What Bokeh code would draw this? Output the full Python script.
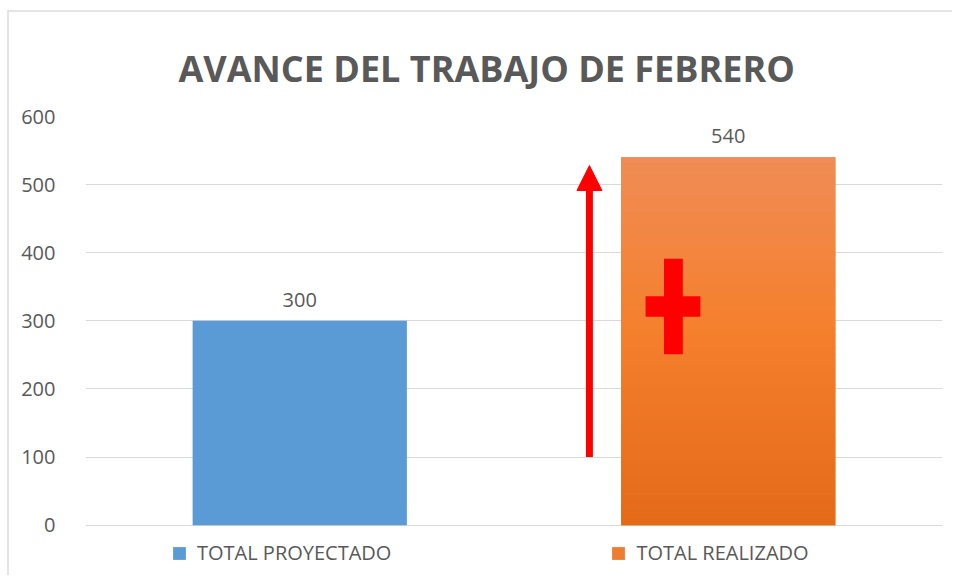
from bokeh.plotting import figure
from bokeh.models import (Range1d, ColumnDataSource, LabelSet, Legend, LegendItem,
                          Arrow, NormalHead, FixedTicker, Title)
from bokeh.core.properties import value
from bokeh.embed import file_html
from bokeh.resources import INLINE

# ---- data ----
categories = ["TOTAL PROYECTADO", "TOTAL REALIZADO"]
values = [300, 540]
colors = ["#5B9BD5", "#ED7D31"]
y_ticks = [0, 100, 200, 300, 400, 500, 600]
title_text = "AVANCE DEL TRABAJO DE FEBRERO"

# annotation (arrow / cross) in data units
arrow_start, arrow_end = 100, 528
cross_v = (251, 391)
cross_h = (306, 336)

FONT = "Open Sans"
GREY = "#595959"

p = figure(width=945, height=565, output_backend="svg", toolbar_location=None,
           x_range=Range1d(0, 2), y_range=Range1d(-65, 600),
           min_border_left=76, min_border_right=12, min_border_top=104,
           min_border_bottom=8)
p.outline_line_color = None
p.styles = {"margin-left": "7px", "margin-top": "10px",
            "border-left": "2px solid #e4e4e4", "border-top": "2px solid #e4e4e4"}

xs = [i + 0.5 for i in range(len(categories))]
src = ColumnDataSource(dict(x=xs, top=values, color=colors, cat=categories,
                            label=[str(v) for v in values]))

r = p.vbar(x="x", top="top", width=0.5, bottom=0, fill_color="color",
           line_color=None, source=src)

# gradient overlay for second bar
stops = [(0.0, (228, 106, 24)), (0.55, (245, 128, 46)), (1.0, (240, 140, 86))]
def interp(t):
    for (t0, c0), (t1, c1) in zip(stops[:-1], stops[1:]):
        if t <= t1:
            f = (t - t0) / (t1 - t0)
            return "#%02x%02x%02x" % tuple(int(round(a + (b - a) * f)) for a, b in zip(c0, c1))
    return "#%02x%02x%02x" % stops[-1][1]
n = 60
v = values[1]
bots = [v * i / n for i in range(n)]
tops = [v * (i + 1) / n + 0.5 for i in range(n)]
tops[-1] = v
gcols = [interp((i + 0.5) / n) for i in range(n)]
p.quad(left=xs[1] - 0.25, right=xs[1] + 0.25, bottom=bots, top=tops,
       fill_color=gcols, line_color=None)

# red arrow
ax = 1.176
p.add_layout(Arrow(x_start=ax, y_start=arrow_start, x_end=ax, y_end=arrow_end,
                   line_color="#FF0000", line_width=7,
                   end=NormalHead(size=25, fill_color="#FF0000", line_color="#FF0000")))

# red cross
cx = 1.372
p.quad(left=cx - 0.022, right=cx + 0.022, bottom=cross_v[0], top=cross_v[1],
       fill_color="#FF0000", line_color=None)
p.quad(left=1.307, right=1.435, bottom=cross_h[0], top=cross_h[1],
       fill_color="#FF0000", line_color=None)

# value labels
p.add_layout(LabelSet(x="x", y="top", text="label", source=src, y_offset=14,
                      text_align="center", text_baseline="alphabetic",
                      text_font=value(FONT), text_font_size="20px", text_color=GREY))

# axes
p.xaxis.visible = False
p.yaxis.ticker = FixedTicker(ticks=y_ticks)
p.yaxis.axis_line_color = None
p.yaxis.major_tick_line_color = None
p.yaxis.minor_tick_line_color = None
p.yaxis.major_label_standoff = 24
p.yaxis.major_label_text_font = FONT
p.yaxis.major_label_text_font_size = "20px"
p.yaxis.major_label_text_color = GREY
p.xgrid.visible = False
p.ygrid.grid_line_color = "#d9d9d9"
p.ygrid.ticker = FixedTicker(ticks=y_ticks)

# title
p.title = Title(text=title_text, align="left", offset=93, text_font=FONT,
                text_font_size="36px", text_font_style="bold",
                text_color=GREY, standoff=48)

# legend (inside the extended frame, below the zero line)
legend = Legend(items=[LegendItem(label=categories[0], renderers=[r], index=0),
                       LegendItem(label=categories[1], renderers=[r], index=1)],
                orientation="horizontal", location=(86, 3),
                glyph_width=16, glyph_height=16, spacing=219,
                label_text_font=FONT, label_text_font_size="20px",
                label_text_color=GREY, border_line_color=None,
                background_fill_alpha=0, margin=0, padding=0, label_standoff=10)
p.add_layout(legend)

open("out.html", "w").write(file_html(p, INLINE))
